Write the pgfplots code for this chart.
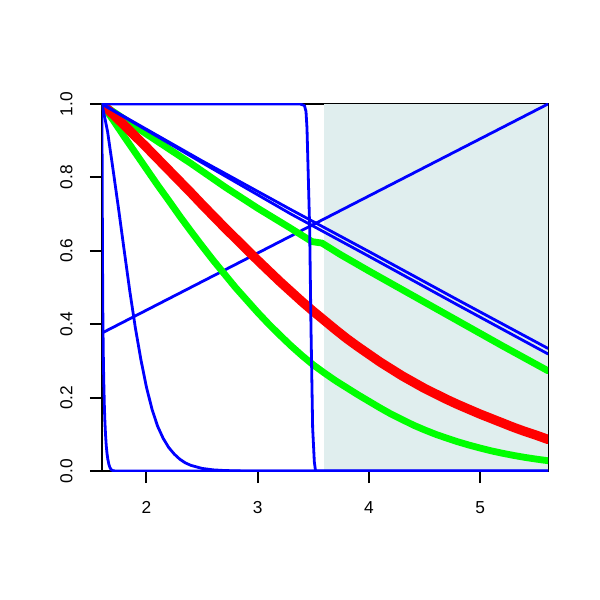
\documentclass[border=0pt]{standalone}
\usepackage{fontspec}
\setmainfont{Liberation Sans}
\usepackage{pgfplots}
\pgfplotsset{compat=1.18}
\definecolor{shade}{RGB}{224,238,238}
\definecolor{rblue}{RGB}{0,0,255}
\definecolor{rred}{RGB}{255,0,0}
\definecolor{rgreen}{RGB}{0,255,0}
\begin{document}
\begin{tikzpicture}
\path[use as bounding box] (-76.5pt,-96.75pt) rectangle (373.5pt,353.25pt);
\begin{axis}[
  at={(0pt,0pt)}, anchor=south west,
  scale only axis, width=334.5pt, height=275.25pt,
  xmin=1.6, xmax=5.61, ymin=0, ymax=1,
  xtick={2,3,4,5},
  xticklabels={2,3,4,5},
  ytick={0,0.2,0.4,0.6,0.8,1.0},
  yticklabels={0.0,0.2,0.4,0.6,0.8,1.0},
  tick pos=left, tick align=outside,
  major tick length=9pt,
  tick style={line width=1.5pt, black},
  axis line style={line width=1.7pt},
  /pgf/number format/assume math mode=true,
  every tick label/.append style={font=\fontsize{13}{15}\selectfont},
  xticklabel style={anchor=north, yshift=-10.5pt},
  yticklabel style={xshift=-9.5pt, rotate=90, anchor=south},
  every axis plot/.append style={line cap=round, line join=round},
]
% shaded region
\addplot[fill=shade, draw=none] coordinates {(3.593,1) (5.61,1)} \closedcycle;
% rising blue line
\addplot[rblue, line width=2.1pt] coordinates {(1.6,0.376) (5.61,1.0)};
% upper green
\addplot[rgreen, line width=5.1pt] coordinates {
(1.6,1) (2.0,0.918) (2.4,0.838) (2.71,0.773) (3.0,0.716) (3.293,0.662)
(3.488,0.625) (3.578,0.621) (3.742,0.590) (4.0,0.545) (4.4,0.477)
(4.8,0.409) (5.2,0.341) (5.61,0.273)};
% lower green
\addplot[rgreen, line width=5.1pt] coordinates {
(1.6,1) (1.7,0.956) (1.8,0.911) (1.9,0.867) (2.0,0.823) (2.1,0.779)
(2.2,0.737) (2.3,0.694) (2.4,0.653) (2.5,0.613) (2.6,0.574) (2.7,0.537)
(2.8,0.500) (2.9,0.466) (3.0,0.432) (3.1,0.400) (3.2,0.370) (3.3,0.341)
(3.4,0.314) (3.5,0.289) (3.6,0.267) (3.7,0.246) (3.8,0.227) (3.9,0.208)
(4.0,0.190) (4.1,0.172) (4.2,0.155) (4.3,0.140) (4.4,0.125) (4.5,0.112)
(4.6,0.100) (4.7,0.0895) (4.8,0.0795) (4.9,0.0706) (5.0,0.0625) (5.1,0.0549)
(5.2,0.0484) (5.3,0.0425) (5.4,0.0372) (5.5,0.0326) (5.61,0.028)};
% red
\addplot[rred, line width=7pt] coordinates {
(1.6,1) (1.7,0.9715) (1.8,0.942) (1.9,0.912) (2.0,0.882) (2.1,0.851)
(2.2,0.820) (2.3,0.789) (2.4,0.758) (2.5,0.726) (2.6,0.695) (2.7,0.664)
(2.8,0.634) (2.9,0.604) (3.0,0.574) (3.1,0.545) (3.2,0.516) (3.3,0.4885)
(3.4,0.461) (3.5,0.435) (3.6,0.410) (3.7,0.385) (3.8,0.361) (3.9,0.339)
(4.0,0.318) (4.1,0.297) (4.2,0.278) (4.3,0.259) (4.4,0.242) (4.5,0.225)
(4.6,0.210) (4.7,0.195) (4.8,0.181) (4.9,0.168) (5.0,0.155) (5.1,0.143)
(5.2,0.131) (5.3,0.119) (5.4,0.108) (5.5,0.098) (5.61,0.086)};
% blue steep at left
\addplot[rblue, line width=2.1pt] coordinates {
(1.6,1) (1.601,0.85) (1.603,0.7) (1.605,0.56) (1.607,0.45) (1.610,0.36)
(1.613,0.29) (1.617,0.23) (1.621,0.18) (1.626,0.135) (1.632,0.098)
(1.638,0.07) (1.645,0.048) (1.653,0.031) (1.662,0.018) (1.672,0.009)
(1.684,0.003) (1.70,0.001) (1.72,0) (5.61,0)};
% blue decay
\addplot[rblue, line width=2.1pt] coordinates {
(1.6,1) (1.65,0.925) (1.7,0.82) (1.75,0.712) (1.8,0.60) (1.85,0.49)
(1.9,0.39) (1.95,0.303) (2.0,0.228) (2.05,0.168) (2.1,0.122) (2.15,0.089)
(2.2,0.064) (2.25,0.046) (2.3,0.032) (2.35,0.022) (2.4,0.0153) (2.5,0.007)
(2.6,0.0031) (2.7,0.0013) (2.8,0.0005) (2.9,0) (5.61,0)};
% blue step
\addplot[rblue, line width=2.1pt] coordinates {
(1.6,1) (3.38,1) (3.42,0.996) (3.434,0.98) (3.443,0.935) (3.455,0.8)
(3.467,0.662) (3.479,0.39) (3.494,0.117) (3.509,0.025) (3.52,0) (5.61,0)};
% two blue falling lines
\addplot[rblue, line width=2.1pt] coordinates {
(1.6,1) (2.5,0.845) (3.3,0.712) (4.0,0.598) (4.8,0.466) (5.61,0.334)};
\addplot[rblue, line width=2.1pt] coordinates {
(1.6,1) (2.5,0.840) (3.3,0.700) (4.0,0.585) (4.8,0.452) (5.61,0.319)};
\end{axis}
\end{tikzpicture}
\end{document}
